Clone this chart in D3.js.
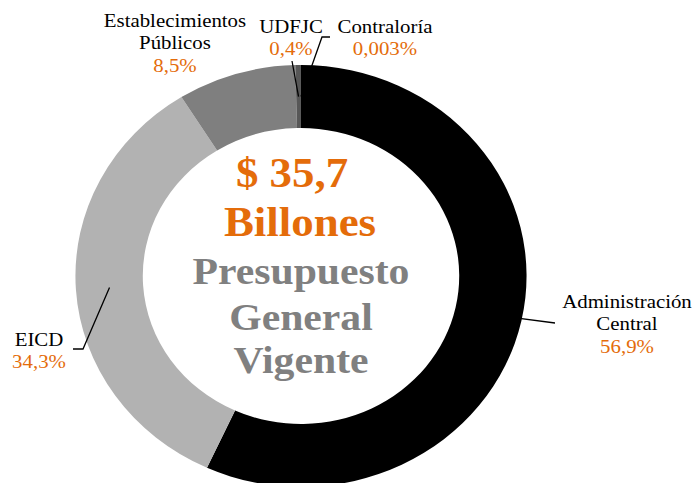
<!DOCTYPE html>
<html>
<head>
<meta charset="utf-8">
<script src="https://cdn.jsdelivr.net/npm/d3@7"></script>
<style>
  html, body { margin: 0; padding: 0; background: #fff; }
  svg { display: block; }
</style>
</head>
<body>
<svg id="chart" width="695" height="483"></svg>
<script>
// ---- data ----
const categories = ["Administración Central", "EICD", "Establecimientos Públicos", "UDFJC", "Contraloría"];
const values = [56.9, 34.3, 8.5, 0.4, 0.003];
const valueLabels = ["56,9%", "34,3%", "8,5%", "0,4%", "0,003%"];
const categoryLines = [["Administración", "Central"], ["EICD"], ["Establecimientos", "Públicos"], ["UDFJC"], ["Contraloría"]];
const sliceColors = ["#000000", "#b2b2b2", "#7f7f7f", "#575757", "#3a3a3a"];
const centerOrange = ["$ 35,7", "Billones"];
const centerGray = ["Presupuesto", "General", "Vigente"];

// ---- layout (screen coords) ----
const W = 695, H = 483;
const cx = 301, cy = 276, sx = 1.069;
const rOuter = 211, rInner = 148;
const labelFont = "'Liberation Serif', 'Times New Roman', serif";
const labelSize = 19.5;
// label anchor: [centerX, firstBaseline], leader elbow points
const labelLayout = [
  { x: 627, y: 308, leader: [[555, 323]] },
  { x: 39, y: 346, leader: [[83, 349], [73, 349]] },
  { x: 175, y: 27, leader: null },
  { x: 291, y: 33, leader: [[292, 61]] },
  { x: 385, y: 33, leader: [[322, 37], [330, 37]] }
];

const svg = d3.select("#chart");

const pie = d3.pie().sort(null).value(d => d)(values);
const arc = d3.arc().innerRadius(rInner).outerRadius(rOuter);
const midArc = d3.arc().innerRadius((rInner + rOuter) / 2).outerRadius((rInner + rOuter) / 2);

const ring = svg.append("g").attr("transform", `translate(${cx},${cy}) scale(${sx},1)`);
ring.selectAll("path").data(pie).join("path")
  .attr("d", arc)
  .attr("fill", (d, i) => sliceColors[i]);

// leader lines
const leaders = svg.append("g");
pie.forEach((d, i) => {
  const L = labelLayout[i];
  if (!L.leader) return;
  const c = midArc.centroid(d);
  const pts = [[cx + c[0] * sx, cy + c[1]], ...L.leader];
  leaders.append("path")
    .attr("d", d3.line()(pts))
    .attr("fill", "none")
    .attr("stroke", "#000")
    .attr("stroke-width", 1.3);
});

// labels (stretched horizontally like the chart)
const txt = svg.append("g").attr("transform", `scale(${sx},1)`);
const lineH = 22.5;
categories.forEach((cat, i) => {
  const L = labelLayout[i];
  const lines = categoryLines[i];
  lines.forEach((ln, j) => {
    txt.append("text")
      .attr("x", L.x / sx).attr("y", L.y + j * lineH)
      .attr("text-anchor", "middle")
      .attr("font-family", labelFont).attr("font-size", labelSize)
      .attr("fill", "#000")
      .text(ln);
  });
  txt.append("text")
    .attr("x", L.x / sx).attr("y", L.y + lines.length * lineH)
    .attr("text-anchor", "middle")
    .attr("font-family", labelFont).attr("font-size", labelSize)
    .attr("fill", "#e46c0a")
    .text(valueLabels[i]);
});

// center text
const orangeX = [292, 300], orangeY = [187, 236];
centerOrange.forEach((t, i) => {
  txt.append("text")
    .attr("x", orangeX[i] / sx).attr("y", orangeY[i])
    .attr("text-anchor", "middle")
    .attr("font-family", labelFont).attr("font-weight", "bold").attr("font-size", 42)
    .attr("fill", "#e46c0a")
    .text(t);
});
const grayY = [284, 330, 373];
centerGray.forEach((t, i) => {
  txt.append("text")
    .attr("x", 301 / sx).attr("y", grayY[i])
    .attr("text-anchor", "middle")
    .attr("font-family", labelFont).attr("font-weight", "bold").attr("font-size", 39)
    .attr("fill", "#808080")
    .text(t);
});
</script>
</body>
</html>
